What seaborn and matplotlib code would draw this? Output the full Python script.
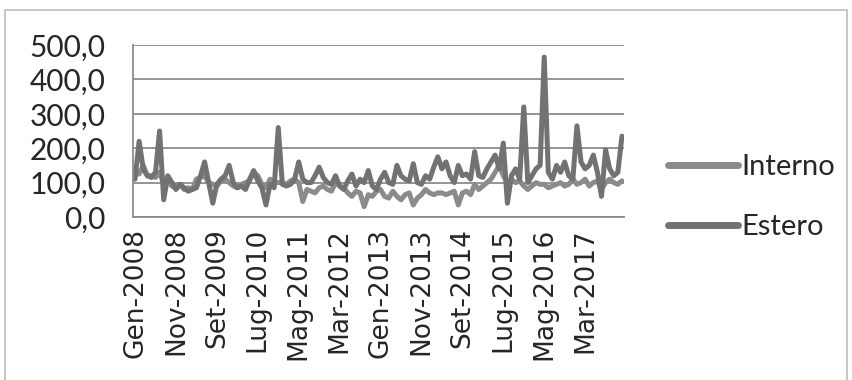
import matplotlib
matplotlib.use('Agg')
import matplotlib.pyplot as plt
import matplotlib.patches as patches
from matplotlib.lines import Line2D
import numpy as np
import pandas as pd
import seaborn as sns

# ---------------------------
# Data (monthly index, Gen-2008 .. Dic-2017)
# ---------------------------
mesi = ["Gen", "Feb", "Mar", "Apr", "Mag", "Giu",
        "Lug", "Ago", "Set", "Ott", "Nov", "Dic"]
anni = list(range(2008, 2018))
periodi = [f"{m}-{a}" for a in anni for m in mesi]

interno = [
    130, 125, 150, 120, 120, 115, 130, 95, 105, 90, 85, 95,      # 2008
    80, 85, 80, 110, 115, 120, 100, 95, 90, 105, 110, 100,       # 2009
    90, 85, 95, 100, 105, 130, 120, 95, 85, 110, 100, 100,       # 2010
    100, 95, 105, 110, 100, 45, 80, 75, 70, 85, 90, 80,          # 2011
    75, 100, 90, 85, 70, 60, 75, 70, 30, 65, 60, 75,             # 2012
    80, 60, 55, 75, 60, 50, 65, 70, 35, 55, 65, 80,              # 2013
    70, 65, 70, 70, 65, 70, 75, 35, 70, 75, 65, 95,              # 2014
    80, 90, 100, 110, 130, 150, 120, 100, 110, 100, 105, 90,     # 2015
    80, 90, 100, 95, 95, 85, 90, 95, 100, 90, 95, 110,           # 2016
    95, 100, 110, 90, 100, 105, 80, 100, 110, 100, 95, 105,      # 2017
]
estero = [
    110, 220, 140, 120, 115, 130, 250, 50, 120, 100, 80, 95,     # 2008
    85, 75, 80, 85, 120, 160, 100, 40, 95, 110, 120, 150,        # 2009
    100, 85, 90, 80, 110, 135, 105, 85, 35, 95, 85, 260,         # 2010
    95, 90, 95, 110, 160, 110, 100, 100, 120, 145, 115, 100,     # 2011
    95, 120, 90, 80, 105, 125, 90, 110, 100, 135, 90, 80,        # 2012
    110, 130, 100, 95, 150, 120, 110, 105, 155, 100, 95, 120,    # 2013
    110, 145, 175, 140, 160, 120, 100, 150, 120, 125, 110, 190,  # 2014
    120, 115, 140, 160, 180, 140, 215, 40, 120, 140, 110, 320,   # 2015
    100, 120, 140, 150, 465, 130, 110, 150, 130, 160, 120, 110,  # 2016
    265, 160, 140, 150, 180, 130, 60, 195, 140, 120, 130, 235,   # 2017
]
serie = ["Interno", "Estero"]
colori = {"Interno": "#8b8b8b", "Estero": "#727272"}
y_ticks = [0, 100, 200, 300, 400, 500]
y_labels = ["0,0", "100,0", "200,0", "300,0", "400,0", "500,0"]

n = len(periodi)
df = pd.DataFrame({
    "pos": list(range(n)) * 2,
    "Periodo": periodi * 2,
    "Valore": interno + estero,
    "Serie": ["Interno"] * n + ["Estero"] * n,
})

# ---------------------------
# Plot
# ---------------------------
sns.set_style("white")
plt.rcParams['font.family'] = ['DejaVu Sans']

W, H = 852, 380
fig = plt.figure(figsize=(W / 100, H / 100), dpi=100)
ax = fig.add_axes([133 / W, 1 - 217 / H, (624 - 133) / W, (217 - 45) / H])

sns.lineplot(data=df, x="pos", y="Valore", hue="Serie", hue_order=serie,
             palette=colori, linewidth=3.6, estimator=None, sort=False,
             legend=False, ax=ax, solid_joinstyle="round",
             solid_capstyle="round")

grigio = "#8c8c8c"
ax.set_xlim(-0.5, n - 0.5)
ax.set_ylim(0, 500)
ax.set_xlabel("")
ax.set_ylabel("")

ax.set_yticks(y_ticks)
ax.set_yticklabels(y_labels, fontsize=21.5, family=["Lato", "DejaVu Sans"])
ax.yaxis.grid(True, color=grigio, linewidth=1.3)
ax.set_axisbelow(True)
ax.tick_params(axis="y", length=8, width=1.3, color=grigio, pad=12)

ax.set_xticks(range(0, n, 10))
ax.set_xticklabels(periodi[::10], rotation=90, fontsize=19, va="top", ha="center")
ax.set_xticks(np.arange(-0.5, n, 1), minor=True)
ax.tick_params(axis="x", which="major", length=0, pad=8)
ax.tick_params(axis="x", which="minor", length=5, width=1, color=grigio)

for s in ["top", "right"]:
    ax.spines[s].set_visible(False)
for s in ["left", "bottom"]:
    ax.spines[s].set_color(grigio)
    ax.spines[s].set_linewidth(1.3)

handles = [Line2D([0], [0], color=colori[s], lw=5, solid_capstyle="round")
           for s in serie]
fig.legend(handles, serie, loc="center left",
           bbox_to_anchor=(668 / W, 1 - 197 / H), bbox_transform=fig.transFigure,
           frameon=False, borderpad=0, borderaxespad=0, handlelength=2.4,
           handletextpad=0.12, labelspacing=1.15,
           prop={"family": ["Lato", "DejaVu Sans"], "size": 21})

fig.add_artist(patches.Rectangle((5 / W, -0.02), 842 / W, 1 - 10 / H + 0.02,
                                 transform=fig.transFigure, fill=False,
                                 edgecolor="#bdbdbd", linewidth=1.2))

fig.savefig("out.png", dpi=100)
plt.close(fig)
